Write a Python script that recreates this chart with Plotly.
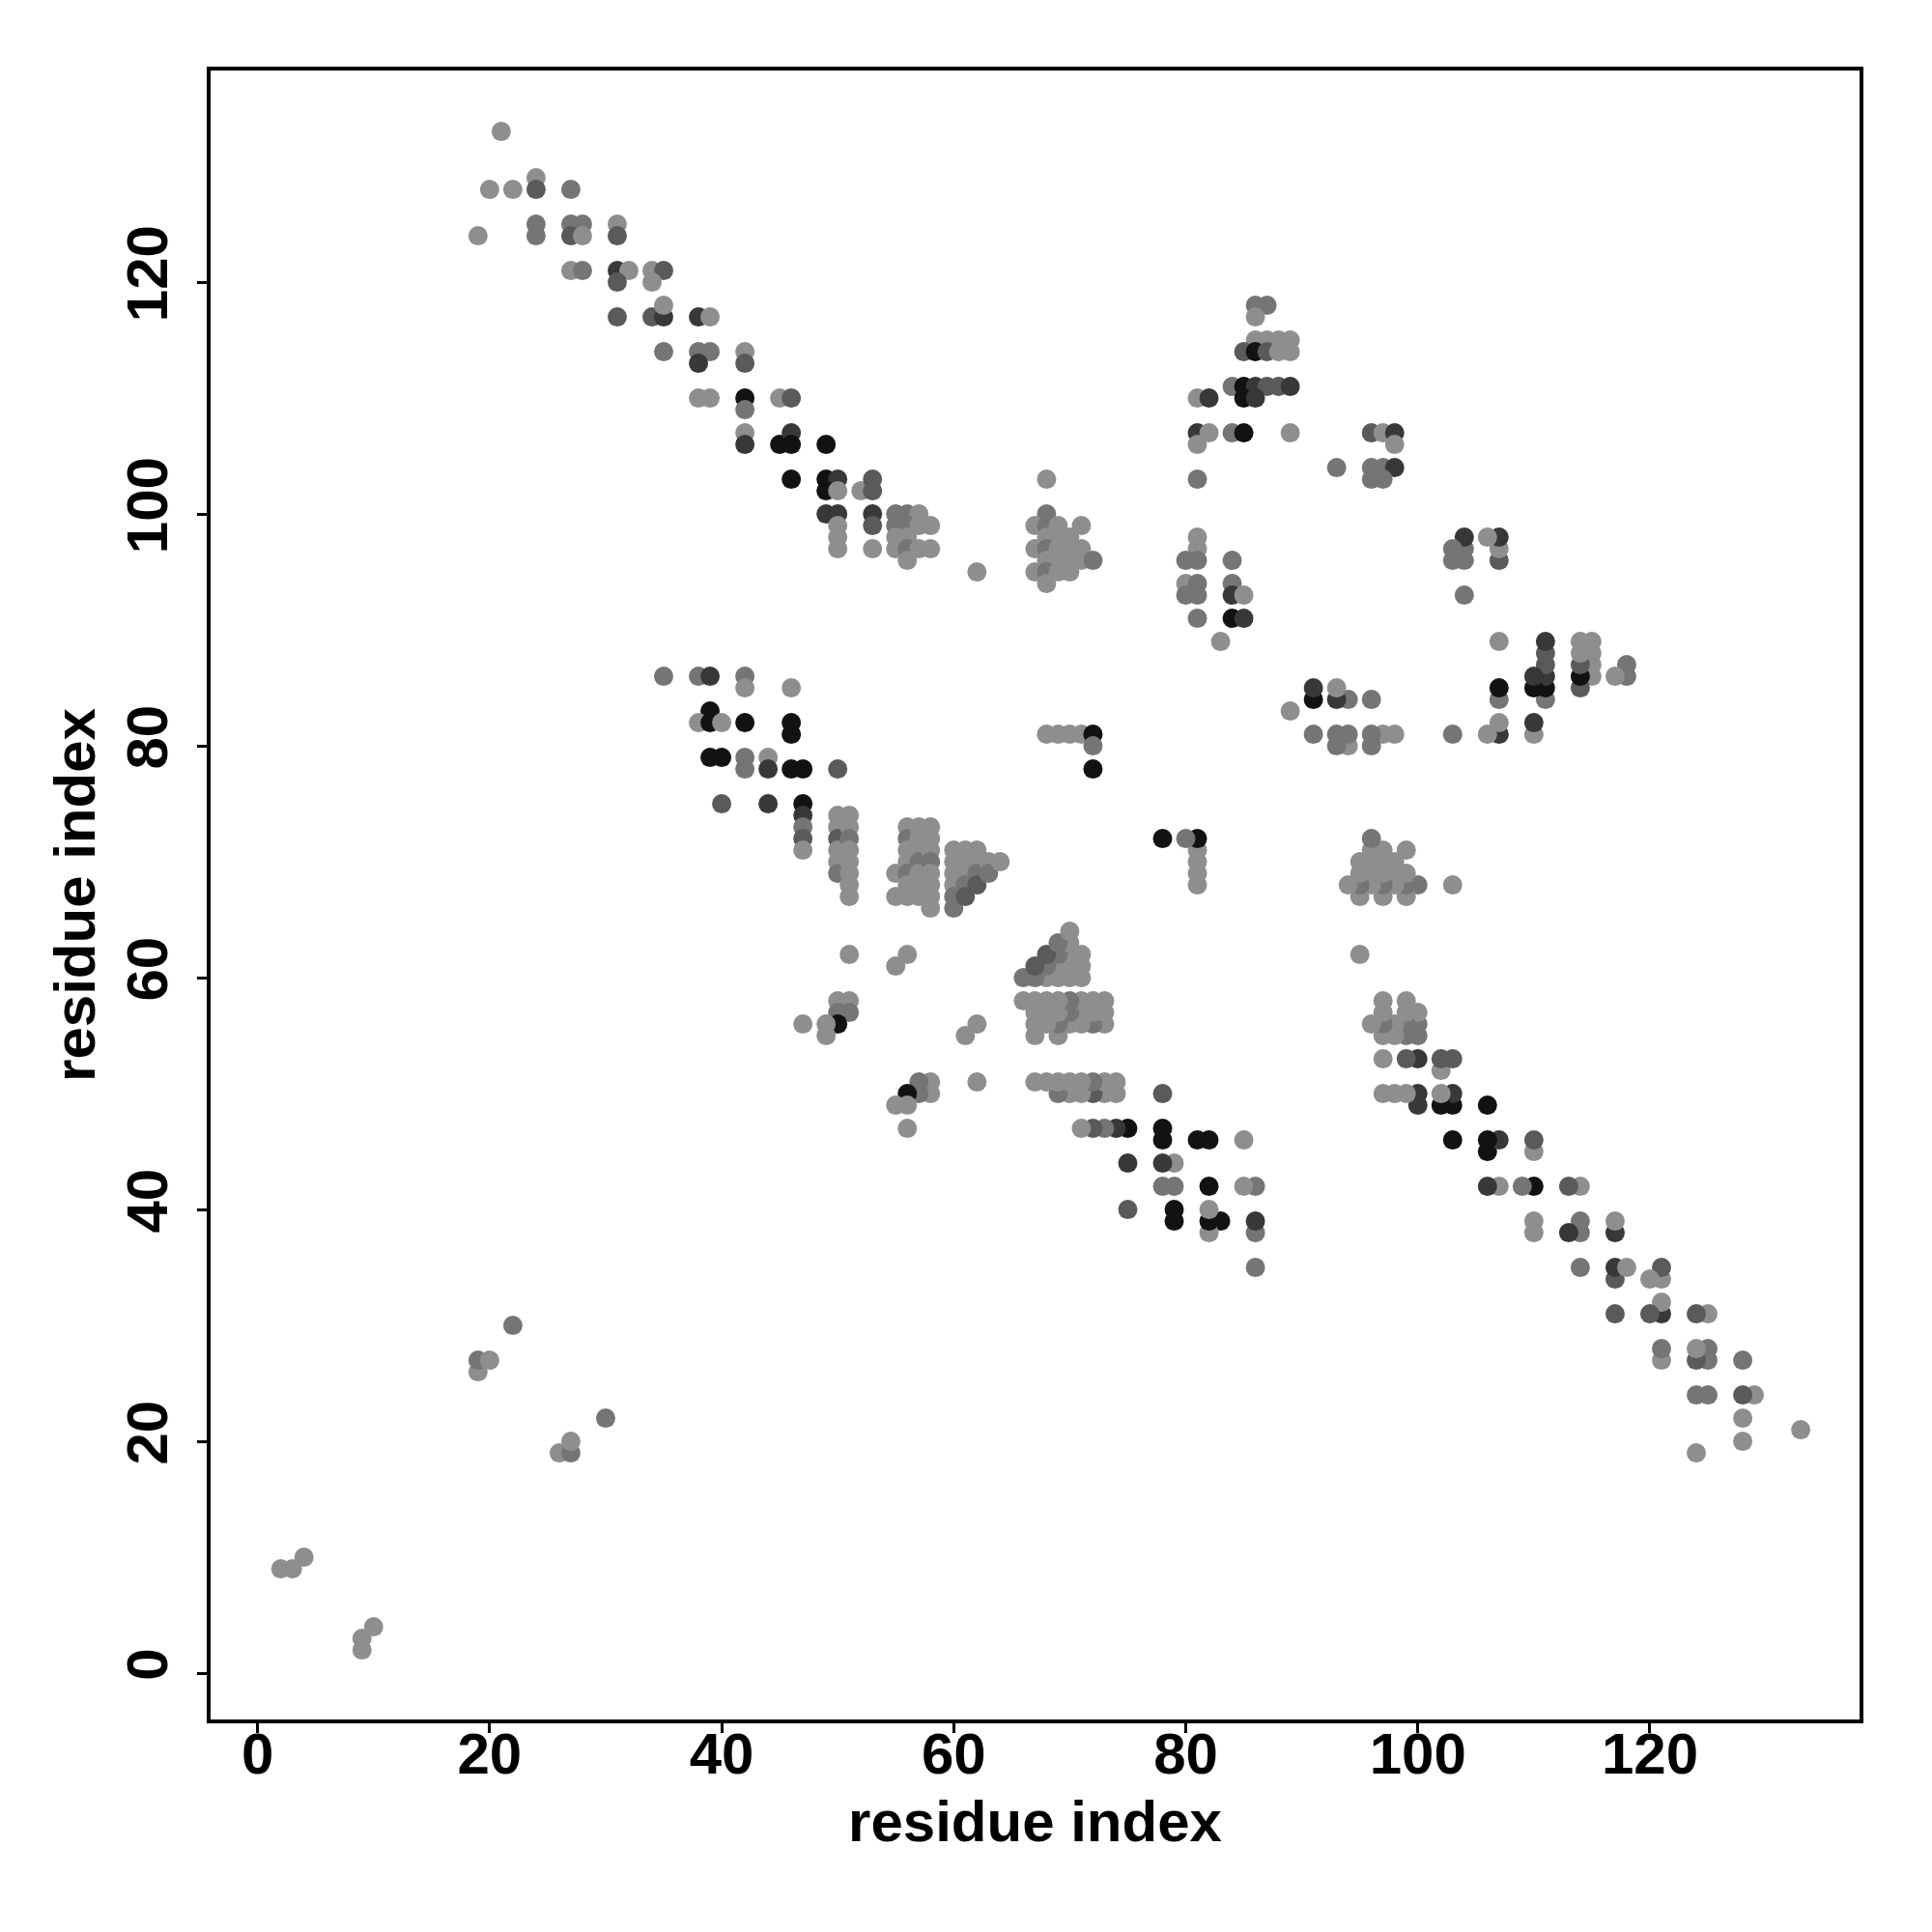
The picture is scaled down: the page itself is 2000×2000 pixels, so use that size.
import plotly.graph_objects as go

# Contact map: each contact (i, j, level) with i < j; the map is symmetric,
# so each contact is drawn at (i, j) and at (j, i).
# level: 1 = light grey ... 5 = black

terminal_contacts = [
    (2, 9, 1), (3, 9, 1), (4, 10, 1), (19, 26, 1), (19, 27, 2), (20, 27, 1), (22, 30, 2),
]

antiparallel_band = [
    (21, 133, 1),
    (20, 128, 1), (22, 128, 1), (24, 129, 1), (24, 128, 3), (27, 128, 2),
    (19, 124, 1), (24, 125, 2), (24, 124, 2), (27, 125, 2), (28, 125, 2), (27, 124, 3),
    (28, 124, 1), (31, 125, 1), (31, 124, 3),
    (27, 121, 1), (28, 121, 2), (31, 121, 4), (32, 121, 1), (31, 120, 3), (34, 121, 1),
    (35, 121, 3), (34, 120, 1),
    (31, 117, 3), (34, 117, 3), (35, 117, 4), (35, 118, 1), (38, 117, 4), (39, 117, 1),
    (35, 114, 2), (38, 114, 2), (39, 114, 2), (38, 113, 4), (42, 114, 1), (42, 113, 3),
    (38, 110, 1), (39, 110, 1), (42, 110, 5), (42, 109, 2), (45, 110, 1), (46, 110, 3),
    (42, 107, 1), (42, 106, 4), (45, 106, 5), (46, 107, 4), (46, 106, 5), (49, 106, 5),
    (46, 103, 5), (49, 103, 5), (50, 103, 4), (49, 102, 5), (50, 102, 1), (52, 102, 1),
    (53, 103, 3), (53, 102, 3),
    (49, 100, 4), (50, 100, 4), (50, 99, 1), (50, 98, 1), (50, 97, 1), (53, 100, 4),
    (53, 99, 3), (53, 97, 1),
    (55, 100, 2), (56, 100, 2), (57, 100, 1), (55, 99, 2), (56, 99, 2), (57, 99, 1),
    (58, 99, 1), (55, 98, 1), (56, 98, 1), (55, 97, 1), (56, 97, 2), (57, 97, 1),
    (58, 97, 1), (56, 96, 1),
    (62, 95, 1),
]

helix_cluster_a = [
    (68, 103, 1), (68, 100, 2),
    (67, 99, 1), (68, 99, 2), (69, 99, 1), (71, 99, 1),
    (68, 98, 1), (69, 98, 1), (70, 98, 1),
    (67, 97, 1), (68, 97, 2), (69, 97, 1), (70, 97, 1), (71, 97, 1),
    (68, 96, 1), (69, 96, 1), (70, 96, 1), (71, 96, 1), (72, 96, 2),
    (67, 95, 1), (68, 95, 2), (69, 95, 1), (70, 95, 1),
    (68, 94, 1),
    (68, 81, 1), (69, 81, 1), (70, 81, 1), (71, 81, 1), (72, 81, 5), (72, 80, 2), (72, 78, 5),
]

middle_sheet = [
    (35, 86, 2), (38, 86, 2), (39, 86, 4), (42, 86, 2), (42, 85, 1), (46, 85, 1),
    (39, 83, 5), (38, 82, 1), (39, 82, 5), (40, 82, 1), (42, 82, 5), (46, 82, 5), (46, 81, 5),
    (39, 79, 5), (40, 79, 5), (42, 79, 2), (42, 78, 2), (44, 79, 1), (44, 78, 4),
    (46, 78, 5), (47, 78, 5), (50, 78, 3),
    (40, 75, 3), (44, 75, 4), (47, 75, 5), (47, 74, 4), (47, 73, 2), (47, 72, 3), (47, 71, 1),
    (50, 74, 1), (50, 73, 1), (50, 72, 3), (50, 71, 1), (50, 70, 1), (50, 69, 2),
    (51, 74, 1), (51, 73, 1), (51, 72, 2), (51, 71, 1), (51, 70, 1), (51, 69, 1),
    (51, 68, 1), (51, 67, 1),
    (51, 62, 1), (55, 61, 1), (56, 62, 1),
    (50, 58, 1), (51, 58, 1), (50, 57, 2), (51, 57, 2), (50, 56, 5), (47, 56, 1),
    (49, 56, 1), (49, 55, 1),
]

helix_cluster_b = [
    (55, 69, 1), (55, 67, 1),
    (56, 73, 1), (56, 72, 2), (56, 71, 1), (56, 70, 1), (56, 69, 2), (56, 68, 1), (56, 67, 1),
    (57, 73, 1), (57, 72, 1), (57, 71, 1), (57, 70, 2), (57, 69, 1), (57, 68, 1), (57, 67, 1),
    (58, 73, 1), (58, 72, 1), (58, 71, 1), (58, 70, 2), (58, 69, 1), (58, 68, 1), (58, 67, 1),
    (58, 66, 1),
    (60, 71, 1), (60, 70, 1), (60, 69, 1), (60, 68, 1), (60, 67, 2), (60, 66, 2),
    (61, 71, 1), (61, 70, 1), (61, 69, 1), (61, 68, 2), (61, 67, 3),
    (62, 71, 1), (62, 70, 1), (62, 69, 2), (62, 68, 3),
    (63, 70, 1), (63, 69, 2), (64, 70, 1),
]

c_terminal_sheet = [
    (86, 118, 2), (87, 118, 2), (86, 117, 1),
    (86, 115, 1), (87, 115, 1), (88, 115, 1), (89, 115, 1),
    (85, 114, 3), (86, 114, 5), (87, 114, 3), (88, 114, 1), (89, 114, 1),
    (84, 111, 2), (85, 111, 5), (86, 111, 4), (87, 111, 3), (88, 111, 3), (89, 111, 4),
    (85, 110, 5), (86, 110, 4), (81, 110, 1), (82, 110, 4),
    (81, 107, 4), (82, 107, 1), (84, 107, 2), (85, 107, 5), (89, 107, 1),
    (81, 106, 1), (81, 103, 2),
    (81, 98, 1), (81, 97, 1), (80, 96, 2), (81, 96, 2), (84, 96, 2),
    (80, 94, 1), (81, 94, 2), (84, 94, 2),
    (80, 93, 2), (81, 93, 2), (84, 93, 4), (85, 93, 1),
    (81, 91, 2), (84, 91, 5), (85, 91, 4),
    (83, 89, 1),
    (96, 107, 3), (97, 107, 1), (98, 107, 4), (98, 106, 1),
    (93, 104, 2), (96, 104, 2), (97, 104, 2), (98, 104, 4), (96, 103, 2), (97, 103, 2),
]

level_colors = {1: "#8e8e8e", 2: "#757575", 3: "#5a5a5a", 4: "#383838", 5: "#121212"}
tick_values = [0, 20, 40, 60, 80, 100, 120]
axis_label = "residue index"

groups = [terminal_contacts, antiparallel_band, helix_cluster_a,
          middle_sheet, helix_cluster_b, c_terminal_sheet]

xs, ys, cs = [], [], []
for g in groups:
    for i, j, lv in g:
        xs += [i, j]
        ys += [j, i]
        cs += [level_colors[lv]] * 2

fig = go.Figure(go.Scatter(
    x=xs, y=ys, mode="markers",
    marker=dict(size=20, color=cs, line=dict(width=0)),
    hoverinfo="x+y",
))

font_family = "Liberation Sans, Arial, Helvetica, sans-serif"
axis_common = dict(
    tickvals=tick_values,
    ticks="outside", ticklen=10, tickwidth=3, tickcolor="black",
    showline=True, linewidth=4, linecolor="black", mirror=True,
    showgrid=False, zeroline=False,
    tickfont=dict(family=font_family, size=60, color="black", weight="bold"),
)

fig.update_layout(
    width=2000, height=2000,
    margin=dict(l=210, r=83, t=65, b=228),
    plot_bgcolor="white", paper_bgcolor="white",
    showlegend=False,
    xaxis=dict(range=[-4.05, 138.07], ticklabelstandoff=-30,
               title=dict(text=axis_label, standoff=17,
                          font=dict(family=font_family, size=60, color="black", weight="bold")),
               **axis_common),
    yaxis=dict(range=[-3.99, 138.26], tickangle=-90, ticklabelstandoff=7,
               title=dict(text=axis_label, standoff=2,
                          font=dict(family=font_family, size=60, color="black", weight="bold")),
               **axis_common),
)

fig.write_html("out.html")
